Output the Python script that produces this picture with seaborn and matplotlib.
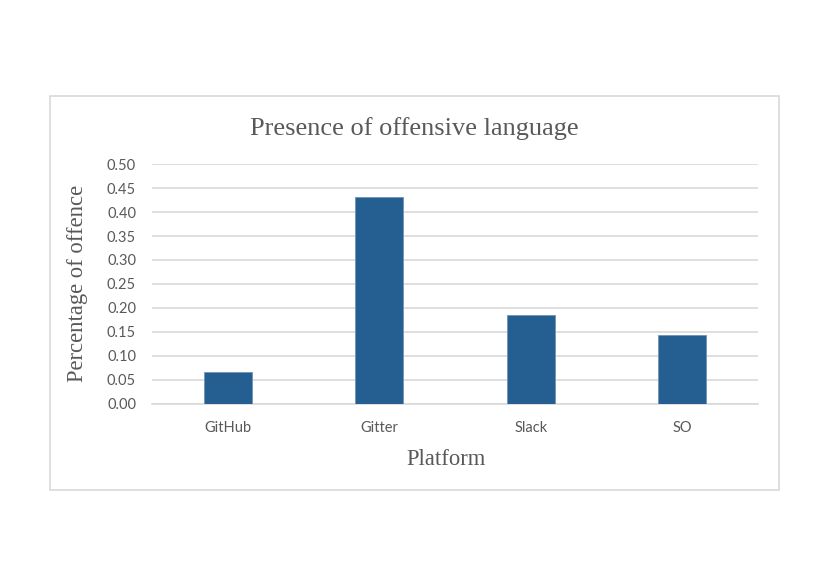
import matplotlib
matplotlib.use("Agg")
import matplotlib.pyplot as plt
import seaborn as sns
import pandas as pd
from matplotlib.patches import Rectangle

platforms = ["GitHub", "Gitter", "Slack", "SO"]
offence = [0.065, 0.431, 0.186, 0.143]
yticks = [0.00, 0.05, 0.10, 0.15, 0.20, 0.25, 0.30, 0.35, 0.40, 0.45, 0.50]

BAR = "#255e91"
GRID = "#d9d9d9"
TXT = "#595959"

sns.set_theme(style="white")
plt.rcParams["font.family"] = ["Lato", "DejaVu Sans"]

df = pd.DataFrame({"Platform": platforms, "Offence": offence})

fig = plt.figure(figsize=(8.3, 5.87), dpi=100)
ax = fig.add_axes([152 / 830, 1 - 403.5 / 587, (758 - 152) / 830, (403.5 - 164.3) / 587])

# chart frame
fig.patches.append(Rectangle((50 / 830, 1 - 490 / 587), 729 / 830, 394 / 587,
                             transform=fig.transFigure, fill=False,
                             edgecolor=GRID, linewidth=1.2))

sns.barplot(data=df, x="Platform", y="Offence", color=BAR, width=0.32,
            saturation=1, edgecolor="#6f93b8", linewidth=0.6, ax=ax, zorder=3)

ax.set_ylim(0, 0.5)
ax.set_yticks(yticks)
ax.set_yticklabels([f"{v:.2f}" for v in yticks])
ax.yaxis.grid(True, color=GRID, linewidth=1.2, zorder=0)
ax.set_axisbelow(True)
for s in ["top", "right", "left"]:
    ax.spines[s].set_visible(False)
ax.spines["bottom"].set_color(GRID)
ax.spines["bottom"].set_linewidth(1.2)
ax.tick_params(axis="both", length=0, labelsize=10.5, colors=TXT)
ax.tick_params(axis="y", pad=11.5)
ax.tick_params(axis="x", pad=12.5)

ax.set_xlabel("Platform", family="Liberation Serif", fontsize=16.3, color=TXT)
ax.set_ylabel("Percentage of offence", family="Liberation Serif", fontsize=16.3, color=TXT)
ax.xaxis.set_label_coords(0.485, -0.19)
ax.yaxis.set_label_coords(-0.1056, 0.5)
fig.text(414.5 / 830, 1 - 135 / 587, "Presence of offensive language",
         family="Liberation Serif", fontsize=19, color=TXT, ha="center", va="baseline")

fig.savefig("out.png", dpi=100, facecolor="white")
